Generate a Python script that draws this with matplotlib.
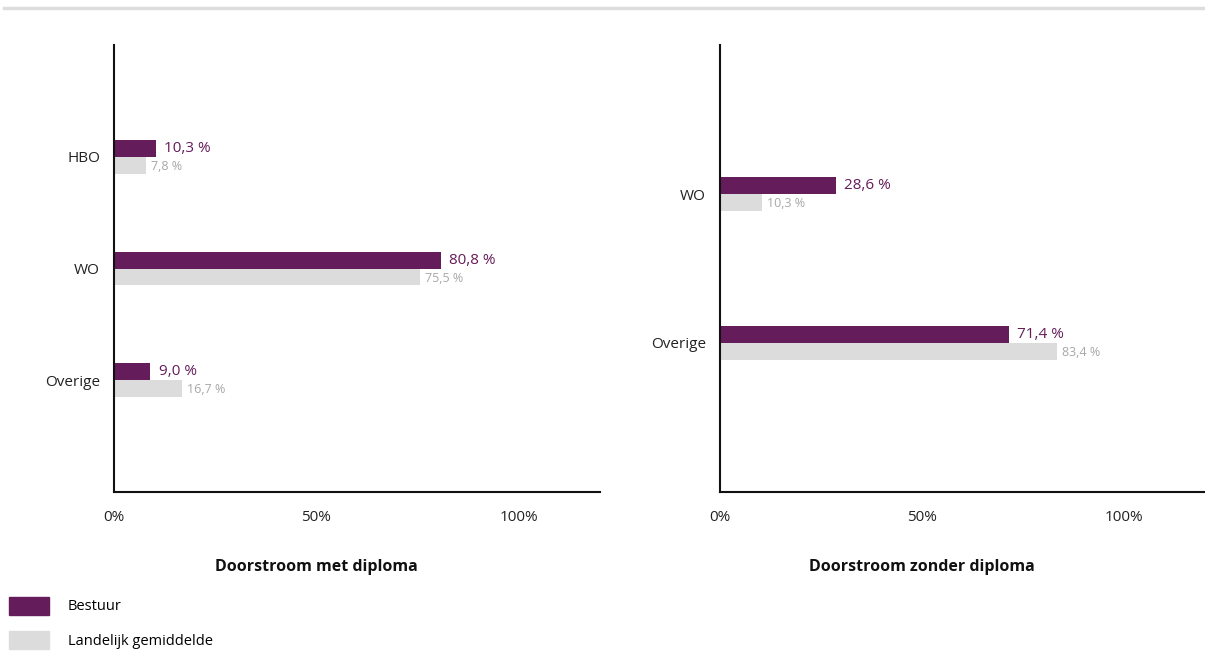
import matplotlib.pyplot as plt
from matplotlib.patches import Patch
from matplotlib.lines import Line2D

plt.rcParams['font.family'] = ['Open Sans', 'DejaVu Sans']

# doorstroom met diploma
cats_met = ['HBO', 'WO', 'Overige']
bestuur_met = [10.3, 80.8, 9.0]
landelijk_met = [7.8, 75.5, 16.7]

# doorstroom zonder diploma
cats_zonder = ['WO', 'Overige']
bestuur_zonder = [28.6, 71.4]
landelijk_zonder = [10.3, 83.4]

x_ticks = [0, 50, 100]
x_ticklabels = ['0%', '50%', '100%']

paars = '#651c5a'
grijs = '#dcdcdc'
grijs_tekst = '#a8a8a8'


def fmt(v):
    return ('%.1f' % v).replace('.', ',') + ' %'


def paneel(ax, cats, best, land, titel):
    n = len(cats)
    h = 0.038 * (n + 1)
    pos = list(range(n))
    ax.barh([p - h / 2 for p in pos], best, height=h, color=paars)
    ax.barh([p + h / 2 for p in pos], land, height=h, color=grijs)
    for p, b, l in zip(pos, best, land):
        ax.text(b + 2.0, p - h / 2, fmt(b), color=paars, fontsize=11,
                va='center', ha='left')
        ax.text(l + 1.3, p + h / 2 + 0.01, fmt(l), color=grijs_tekst, fontsize=9,
                va='center', ha='left')
    ax.set_ylim(n, -1)
    ax.set_xlim(0, 120)
    ax.set_yticks(pos)
    ax.set_yticklabels(cats, fontsize=11, color='#222222')
    ax.set_xticks(x_ticks)
    ax.set_xticklabels(x_ticklabels, fontsize=11, color='#222222')
    ax.tick_params(length=0)
    ax.tick_params(axis='x', pad=13)
    ax.tick_params(axis='y', pad=10)
    for s in ['top', 'right']:
        ax.spines[s].set_visible(False)
    for s in ['left', 'bottom']:
        ax.spines[s].set_linewidth(1.5)
        ax.spines[s].set_color('#111111')
    ax.text(50, -0.168, titel, transform=ax.get_xaxis_transform(), fontsize=11.5,
            fontweight='bold', ha='center', va='center', color='#111111')


fig = plt.figure(figsize=(12.05, 6.52), dpi=100)
ax1 = fig.add_axes([114 / 1205, 1 - 492 / 652, 486 / 1205, 447 / 652])
ax2 = fig.add_axes([720 / 1205, 1 - 492 / 652, 485 / 1205, 447 / 652])

paneel(ax1, cats_met, bestuur_met, landelijk_met, 'Doorstroom met diploma')
paneel(ax2, cats_zonder, bestuur_zonder, landelijk_zonder, 'Doorstroom zonder diploma')

# dunne lijn bovenaan
fig.add_artist(Line2D([4 / 1205, 1], [1 - 8 / 652] * 2, color='#dddddd', lw=2.5))

handles = [Patch(color=paars), Patch(color=grijs)]
fig.legend(handles, ['Bestuur', 'Landelijk gemiddelde'], loc='upper left',
           bbox_to_anchor=(0.0, 1 - 588 / 652), frameon=False, fontsize=10.5,
           handlelength=2.75, handleheight=1.5, labelspacing=1.15,
           handletextpad=1.3, borderpad=0.3, borderaxespad=0.3)

fig.savefig('out.png', dpi=100, facecolor='white')
